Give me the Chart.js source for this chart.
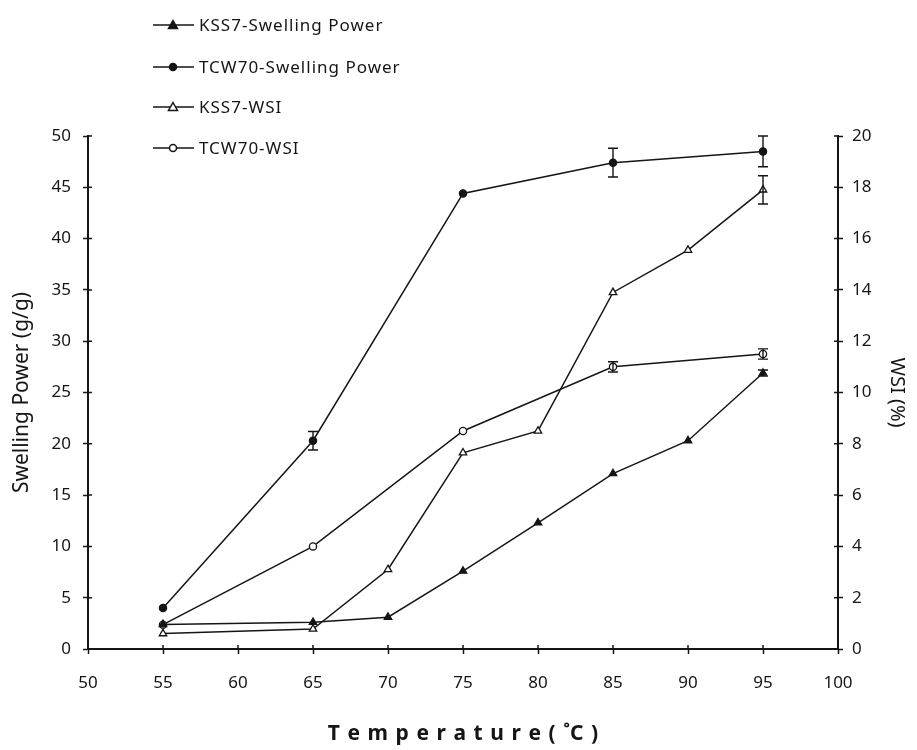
<!DOCTYPE html>
<html>
<head>
<meta charset="utf-8">
<script src="https://cdn.jsdelivr.net/npm/chart.js@4.4.1/dist/chart.umd.min.js"></script>
<style>
  html, body { margin: 0; padding: 0; background: #fff; }
  #caja { width: 917px; height: 750px; }
</style>
</head>
<body>
<div id="caja"><canvas id="grafica"></canvas></div>
<script>
// Temperaturas (°C)
const tempsKSS7 = [55, 65, 70, 75, 80, 85, 90, 95];
const tempsTCW70 = [55, 65, 75, 85, 95];

// Swelling power (g/g) -> eje izquierdo
const kss7Swelling = [2.4, 2.6, 3.1, 7.6, 12.3, 17.1, 20.3, 26.9];
const tcw70Swelling = [4.0, 20.3, 44.4, 47.4, 48.5];

// WSI (%) -> eje derecho
const kss7WSI = [0.6, 0.78, 3.1, 7.65, 8.5, 13.9, 15.55, 17.9];
const tcw70WSI = [0.95, 4.0, 8.5, 11.0, 11.5];

// Barras de error (+/-)
const kss7SwellingErr = [0, 0, 0, 0, 0, 0, 0, 0.3];
const tcw70SwellingErr = [0, 0.9, 0, 1.4, 1.5];
const kss7WSIErr = [0, 0, 0, 0, 0, 0, 0, 0.55];
const tcw70WSIErr = [0, 0, 0, 0.2, 0.2];

const etiquetas = ['KSS7-Swelling Power', 'TCW70-Swelling Power', 'KSS7-WSI', 'TCW70-WSI'];

const negro = '#151515';
const fuente = 'Noto Sans';

function puntos(xs, ys) {
  return xs.map((x, i) => ({ x: x, y: ys[i] }));
}

// Barras de error dibujadas con las escalas del grafico
const barrasError = {
  id: 'barrasError',
  afterDatasetsDraw(chart) {
    const ctx = chart.ctx;
    const sx = chart.scales.x;
    ctx.save();
    ctx.strokeStyle = negro;
    ctx.lineWidth = 1.4;
    chart.data.datasets.forEach(ds => {
      if (!ds.errores) return;
      const sy = chart.scales[ds.yAxisID];
      ds.data.forEach((p, i) => {
        const e = ds.errores[i];
        if (!e) return;
        const px = sx.getPixelForValue(p.x);
        const y1 = sy.getPixelForValue(p.y + e);
        const y2 = sy.getPixelForValue(p.y - e);
        ctx.beginPath();
        ctx.moveTo(px, y1); ctx.lineTo(px, y2);
        ctx.moveTo(px - 5, y1); ctx.lineTo(px + 5, y1);
        ctx.moveTo(px - 5, y2); ctx.lineTo(px + 5, y2);
        ctx.stroke();
      });
    });
    ctx.restore();
  }
};

// Marcas que cruzan el eje (parte interior)
const marcasInternas = {
  id: 'marcasInternas',
  beforeDatasetsDraw(chart) {
    const ctx = chart.ctx;
    const area = chart.chartArea;
    ctx.save();
    ctx.strokeStyle = negro;
    ctx.lineWidth = 1.5;
    ctx.beginPath();
    chart.scales.x.ticks.forEach(t => {
      const px = chart.scales.x.getPixelForValue(t.value);
      ctx.moveTo(px, area.bottom); ctx.lineTo(px, area.bottom - 4);
    });
    chart.scales.y.ticks.forEach(t => {
      const py = chart.scales.y.getPixelForValue(t.value);
      ctx.moveTo(area.left, py); ctx.lineTo(area.left + 4, py);
    });
    chart.scales.y1.ticks.forEach(t => {
      const py = chart.scales.y1.getPixelForValue(t.value);
      ctx.moveTo(area.right, py); ctx.lineTo(area.right - 4, py);
    });
    ctx.stroke();
    ctx.restore();
  }
};

// Leyenda vertical arriba a la izquierda
const leyenda = {
  id: 'leyenda',
  afterDraw(chart) {
    const ctx = chart.ctx;
    const filas = [25, 67, 107, 148];
    ctx.save();
    ctx.font = '17px "' + fuente + '"';
    ctx.letterSpacing = '1px';
    ctx.textBaseline = 'middle';
    chart.data.datasets.forEach((ds, i) => {
      const y = filas[i];
      ctx.strokeStyle = negro;
      ctx.lineWidth = 1.5;
      ctx.beginPath();
      ctx.moveTo(153, y); ctx.lineTo(194, y);
      ctx.stroke();
      ctx.fillStyle = ds.pointBackgroundColor;
      ctx.beginPath();
      if (ds.pointStyle === 'triangle') {
        ctx.moveTo(173, y - 4.5); ctx.lineTo(177.5, y + 3.5); ctx.lineTo(168.5, y + 3.5); ctx.closePath();
      } else {
        ctx.arc(173, y, 3.5, 0, Math.PI * 2);
      }
      ctx.fill();
      ctx.stroke();
      ctx.fillStyle = negro;
      ctx.fillText(ds.label, 199, y + 1);
    });
    ctx.restore();
  }
};

const ctxGrafica = document.getElementById('grafica').getContext('2d');

const grafica = new Chart(ctxGrafica, {
  type: 'line',
  data: {
    datasets: [
      {
        label: etiquetas[0],
        data: puntos(tempsKSS7, kss7Swelling),
        errores: kss7SwellingErr,
        yAxisID: 'y',
        borderColor: negro,
        pointStyle: 'triangle',
        pointRadius: 4.3,
        pointBorderColor: negro,
        pointBackgroundColor: negro
      },
      {
        label: etiquetas[1],
        data: puntos(tempsTCW70, tcw70Swelling),
        errores: tcw70SwellingErr,
        yAxisID: 'y',
        borderColor: negro,
        pointStyle: 'circle',
        pointRadius: 3.6,
        pointBorderColor: negro,
        pointBackgroundColor: negro
      },
      {
        label: etiquetas[2],
        data: puntos(tempsKSS7, kss7WSI),
        errores: kss7WSIErr,
        yAxisID: 'y1',
        borderColor: negro,
        pointStyle: 'triangle',
        pointRadius: 4.3,
        pointBorderColor: negro,
        pointBackgroundColor: '#ffffff'
      },
      {
        label: etiquetas[3],
        data: puntos(tempsTCW70, tcw70WSI),
        errores: tcw70WSIErr,
        yAxisID: 'y1',
        borderColor: negro,
        pointStyle: 'circle',
        pointRadius: 3.6,
        pointBorderColor: negro,
        pointBackgroundColor: '#ffffff'
      }
    ]
  },
  options: {
    responsive: true,
    maintainAspectRatio: false,
    animation: false,
    layout: { padding: { top: 136, left: 0, right: 0, bottom: 0 } },
    datasets: {
      line: {
        borderWidth: 1.5,
        pointBorderWidth: 1.3,
        tension: 0,
        clip: false
      }
    },
    plugins: {
      legend: { display: false },
      tooltip: { enabled: false }
    },
    scales: {
      x: {
        type: 'linear',
        min: 50,
        max: 100,
        afterFit: s => { s.height = 101; },
        grid: { drawOnChartArea: false, tickLength: 5, tickColor: negro, tickWidth: 1.5 },
        border: { color: negro, width: 2 },
        ticks: { stepSize: 5, color: negro, padding: 19, font: { family: fuente, size: 17 } },
        title: {
          display: true,
          text: 'T\u200A e\u200A m\u200A p\u200A e\u200A r\u200A a\u200A t\u200A u\u200A r\u200A e\u200A (\u200A ˚C\u200A )',
          color: negro,
          padding: { top: 0, bottom: 3 },
          font: { family: fuente, size: 21, weight: 'bold' }
        }
      },
      y: {
        position: 'left',
        min: 0,
        max: 50,
        afterFit: s => { s.width = 88; },
        grid: { drawOnChartArea: false, tickLength: 5, tickColor: negro, tickWidth: 1.5 },
        border: { color: negro, width: 2 },
        ticks: { stepSize: 5, color: negro, padding: 12, font: { family: fuente, size: 17 } },
        title: {
          display: true,
          text: 'Swelling Power (g/g)',
          color: negro,
          padding: { top: 9, bottom: 0 },
          font: { family: fuente, size: 21 }
        }
      },
      y1: {
        position: 'right',
        min: 0,
        max: 20,
        afterFit: s => { s.width = 79; },
        grid: { drawOnChartArea: false, tickLength: 5, tickColor: negro, tickWidth: 1.5 },
        border: { color: negro, width: 2 },
        ticks: { stepSize: 2, color: negro, padding: 9, font: { family: fuente, size: 17 } },
        title: {
          display: true,
          text: 'WSI (%)',
          color: negro,
          padding: { top: 8, bottom: 0 },
          font: { family: fuente, size: 20 }
        }
      }
    }
  },
  plugins: [marcasInternas, barrasError, leyenda]
});
</script>
</body>
</html>
